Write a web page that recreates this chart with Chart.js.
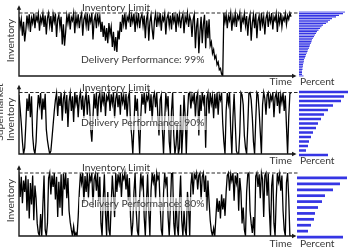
<!DOCTYPE html>
<html><head><meta charset="utf-8">
<script src="https://cdn.jsdelivr.net/npm/chart.js@4.4.1/dist/chart.umd.min.js"></script>
<style>
html,body{margin:0;padding:0;background:#fff;}
#wrap{position:relative;width:350px;height:250px;overflow:hidden;background:#fff;}
canvas{position:absolute;left:0;top:0;}
</style></head><body><div id="wrap">
<canvas id="l1" width="350" height="250"></canvas>
<canvas id="l2" width="350" height="250"></canvas>
<canvas id="l3" width="350" height="250"></canvas>
<canvas id="b1" width="350" height="250"></canvas>
<canvas id="b2" width="350" height="250"></canvas>
<canvas id="b3" width="350" height="250"></canvas>
</div>
<script>
// Inventory traces (percent of inventory limit)
const inventory99 = [
94,78,90,64,86,55,72,96,80,98,70,92,84,99,76,95,88,99,72,93,
85,99,78,96,66,92,100,80,95,70,98,86,99,62,90,97,78,94,50,82,
48,70,96,84,99,74,93,88,100,68,95,82,98,76,92,99,64,90,97,80,
99,72,94,86,100,58,88,96,76,99,84,95,70,86,62,80,56,76,52,84,
66,78,46,70,40,62,38,72,58,86,70,97,82,99,74,94,88,100,78,96,
86,99,70,95,82,100,76,92,98,80,96,60,90,99,56,86,97,74,58,88,
99,78,95,84,100,72,94,88,99,66,92,98,80,96,74,100,86,95,70,99,
84,97,76,92,99,68,94,86,100,78,95,88,62,90,98,44,78,92,36,70,
94,52,82,97,44,88,60,90,48,54,36,42,28,32,18,22,10,12,3,0,
100,86,98,76,95,88,100,72,94,84,99,78,96,90,100,70,93,86,99,80,
95,64,90,98,56,84,97,76,99,60,88,96,72,100,82,94,66,92,99,78,
96,86,100,74,94,88,99,70,95,84,100,78,93,88,99,82,96,90,100,94];
const inventory90 = [
96,74,50,20,0,10,48,90,70,98,60,94,30,8,0,20,66,96,80,99,
56,90,72,98,40,22,10,0,5,26,48,70,88,99,62,94,78,100,54,90,
98,66,96,44,86,99,70,94,52,100,82,96,60,90,100,72,95,58,88,99,
64,96,80,40,20,60,98,74,100,56,92,99,68,96,84,100,62,94,88,99,
70,97,82,100,58,90,99,76,96,64,100,84,95,72,98,60,92,100,50,30,
0,45,96,70,90,40,0,60,98,80,100,66,95,88,100,70,97,54,92,99,
76,100,62,30,88,96,40,0,55,99,78,94,20,0,70,100,30,0,15,50,
0,10,80,0,40,96,60,0,62,98,100,74,95,86,100,60,92,99,30,96,
70,100,84,96,10,90,99,66,100,82,94,58,98,74,100,64,96,88,100,50,
20,0,70,99,82,100,40,0,60,98,50,5,0,0,35,100,96,80,30,10,
0,45,99,100,88,60,20,0,55,100,96,70,35,0,80,100,90,64,96,100,
74,95,88,100,60,92,99,78,100,66,96,84,100,70,95,45,0,60,98,100];
const inventory80 = [
98,62,94,52,88,70,96,40,90,28,84,50,96,25,80,60,20,5,0,35,
0,50,96,10,0,20,92,100,66,96,78,100,58,94,30,86,45,98,32,99,
74,100,60,92,40,22,10,0,15,0,5,0,30,70,99,84,100,52,95,70,
100,60,96,88,100,45,90,98,72,100,55,94,20,0,60,98,35,0,70,10,
0,50,96,66,30,100,70,98,84,100,62,96,90,100,74,98,56,92,30,0,
20,70,100,40,8,0,62,99,80,96,30,0,55,98,40,0,72,100,86,98,
60,100,90,96,50,10,0,68,100,82,94,30,0,45,99,100,20,0,60,15,
0,55,96,25,0,40,10,0,70,45,0,80,100,66,98,92,100,74,96,100,
58,94,100,70,96,40,88,55,25,8,0,12,0,30,60,38,56,28,66,42,
60,32,70,96,100,72,98,88,100,56,96,84,100,40,92,70,20,45,10,0,
70,98,100,40,20,5,30,0,95,100,78,98,60,100,90,30,96,100,64,99,
40,0,80,98,20,0,60,100,86,98,72,96,40,10,0,85,100,60,0,0];

// Histograms of inventory level (top bin = limit, bottom bin = empty)
const levels99 = ['39','38','37','36','35','34','33','32','31','30','29','28','27','26','25','24','23','22','21','20',
                  '19','18','17','16','15','14','13','12','11','10','9','8','7','6','5','4','3','2','1','0'];
const percent99 = [46,44,40,37,33,31,29,27,24,22.5,21,19.5,18,17,16,15,14,13,12.5,12,
                   11,10.5,10,9,8.5,8,7,6.5,6,5,5,4.5,4,4,3.5,3.5,3,3,3,4.5];
const levels90 = ['14','13','12','11','10','9','8','7','6','5','4','3','2','1','0'];
const percent90 = [49,45,42,34,29,25,22,19,17,14,12,10,9,7,29];
const levels80 = ['10','9','8','7','6','5','4','3','2','1','0'];
const percent80 = [50,43,36,28,25,21,18,17,14,11,46];

const performanceText = ['Delivery Performance: 99%','Delivery Performance: 90%','Delivery Performance: 80%'];
const limitText = 'Inventory Limit';
const yTitle = 'Inventory';
const xTitle = 'Time';
const histTitle = 'Percent';
const sideLabel = 'Supermarket';

const FONT = 'Lato, "Open Sans", sans-serif';
const FS = '10.3px ';
const TXT = '#3a3a3a';
const YMAX = 112.5;

function linePanel(id, data, pad, perfText, perfDy, timeDy, box, side){
  const plugin = {
    id: 'deco' + id,
    afterDraw(chart){
      const ctx = chart.ctx, a = chart.chartArea;
      const L = a.left, R = a.right, T = a.top, B = a.bottom;
      const yl = chart.scales.y.getPixelForValue(100);
      ctx.save();
      ctx.font = FS + FONT;
      ctx.textBaseline = 'middle';
      ctx.textAlign = 'left';
      const w = ctx.measureText(perfText).width;
      const ty = B - perfDy;
      if (box){
        ctx.fillStyle = 'rgba(255,255,255,0.6)';
        ctx.fillRect(79, ty - 7, w + 4, 14);
      }
      ctx.fillStyle = TXT;
      ctx.fillText(perfText, 81, ty);
      // dashed limit line
      ctx.strokeStyle = '#2a2a2a'; ctx.lineWidth = 1.2; ctx.setLineDash([3.5, 2]);
      ctx.beginPath(); ctx.moveTo(L, yl); ctx.lineTo(298, yl); ctx.stroke();
      ctx.setLineDash([]);
      // axes with arrow heads
      ctx.strokeStyle = '#1a1a1a'; ctx.lineWidth = 1.4;
      ctx.beginPath(); ctx.moveTo(L, T + 3); ctx.lineTo(L, B); ctx.lineTo(R - 2, B); ctx.stroke();
      ctx.fillStyle = '#1a1a1a';
      ctx.beginPath(); ctx.moveTo(L, T); ctx.lineTo(L - 2.2, T + 4.5); ctx.lineTo(L + 2.2, T + 4.5); ctx.closePath(); ctx.fill();
      ctx.beginPath(); ctx.moveTo(R + 1.5, B); ctx.lineTo(R - 3, B - 2.2); ctx.lineTo(R - 3, B + 2.2); ctx.closePath(); ctx.fill();
      // texts
      ctx.fillStyle = TXT;
      ctx.textBaseline = 'alphabetic';
      ctx.fillText(limitText, 82, yl - 2);
      ctx.textBaseline = 'middle';
      ctx.textAlign = 'right';
      ctx.fillText(xTitle, 292, B + timeDy);
      ctx.textAlign = 'left';
      ctx.fillText(histTitle, 300, B + timeDy);
      ctx.save();
      ctx.translate(11, (T + B) / 2);
      ctx.rotate(-Math.PI / 2);
      ctx.textAlign = 'center';
      ctx.textBaseline = 'middle';
      ctx.fillText(yTitle, 0, 0);
      ctx.restore();
      if (side){
        ctx.save();
        ctx.translate(2.5, side);
        ctx.rotate(-Math.PI / 2);
        ctx.textAlign = 'center';
        ctx.textBaseline = 'alphabetic';
        ctx.fillText(sideLabel, 0, 0);
        ctx.restore();
      }
      ctx.restore();
    }
  };
  const pts = data.map((v, i) => ({x: i, y: v}));
  return new Chart(document.getElementById(id), {
    type: 'line',
    data: {datasets: [{data: pts, borderColor: '#000', borderWidth: 1.3, pointRadius: 0, tension: 0, fill: false}]},
    options: {
      responsive: false, animation: false, devicePixelRatio: 1,
      layout: {padding: pad},
      plugins: {legend: {display: false}, tooltip: {enabled: false}},
      scales: {
        x: {type: 'linear', min: 0, max: 242.5, display: false},
        y: {min: 0, max: YMAX, display: false}
      }
    },
    plugins: [plugin]
  });
}

function barPanel(id, labels, values, pad, xmax, thick){
  return new Chart(document.getElementById(id), {
    type: 'bar',
    data: {labels: labels, datasets: [{data: values, backgroundColor: '#3535e4', borderWidth: 0,
      barPercentage: thick, categoryPercentage: 1}]},
    options: {
      indexAxis: 'y', responsive: false, animation: false, devicePixelRatio: 1,
      layout: {padding: pad},
      plugins: {legend: {display: false}, tooltip: {enabled: false}},
      scales: {
        x: {min: 0, max: xmax, display: false},
        y: {display: false}
      }
    }
  });
}

function topPad(base, dashed){ return base - (base - dashed) * YMAX / 100; }

linePanel('l1', inventory99, {left: 19, right: 55, top: topPad(76, 13), bottom: 250 - 76}, performanceText[0], 16, 5.5, false, 0);
linePanel('l2', inventory90, {left: 19, right: 55, top: topPad(154, 92.5), bottom: 250 - 154}, performanceText[1], 31, 6.5, true, 112);
linePanel('l3', inventory80, {left: 19, right: 55, top: topPad(236, 173), bottom: 250 - 236}, performanceText[2], 32, 8, true, 0);

barPanel('b1', levels99, percent99, {left: 299, right: 1, top: 11.2, bottom: 250 - 76.8}, 50, 0.72);
barPanel('b2', levels90, percent90, {left: 299, right: 1, top: 89.75, bottom: 250 - 157.25}, 50, 0.6);
barPanel('b3', levels80, percent80, {left: 297, right: 1, top: 175, bottom: 250 - 240}, 52, 0.46);
</script>
</body></html>
